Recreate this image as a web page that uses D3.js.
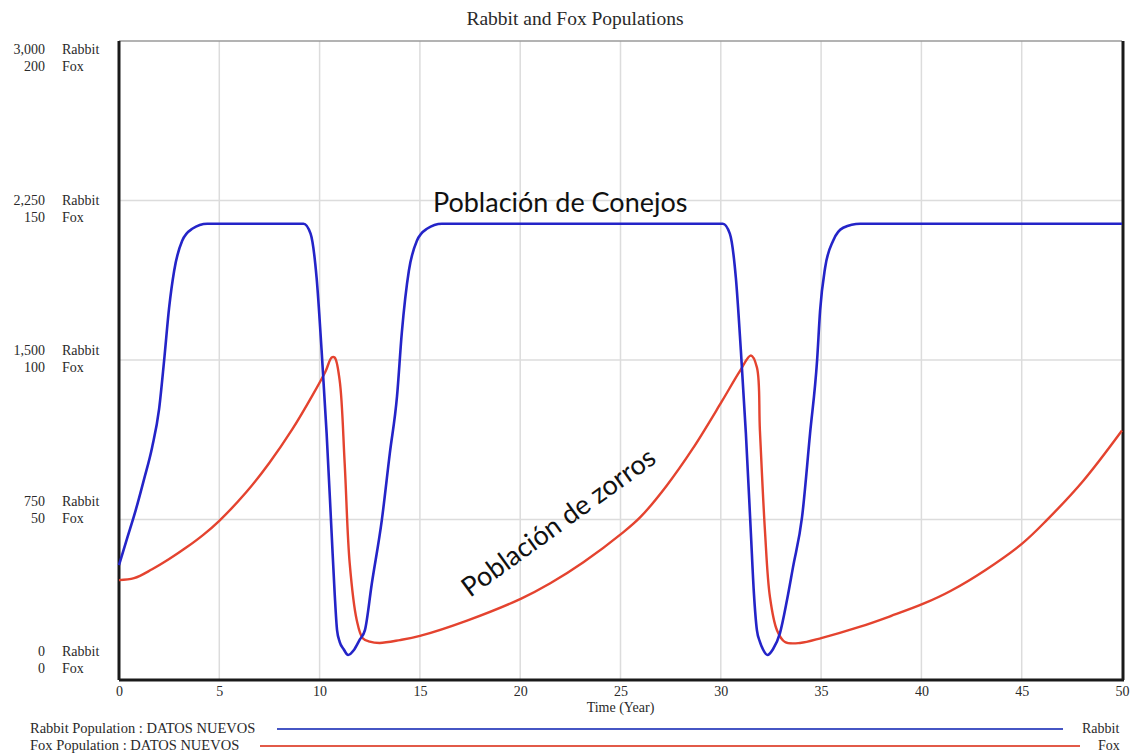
<!DOCTYPE html>
<html>
<head>
<meta charset="utf-8">
<script src="https://cdn.jsdelivr.net/npm/d3@7"></script>
<style>
  html, body { margin: 0; padding: 0; background: #fff; }
  svg { display: block; }
  .serif { font-family: "Liberation Serif", "DejaVu Serif", serif; fill: #2a2a2a; }
</style>
</head>
<body>
<svg id="chart" width="1140" height="753"></svg>
<script>
// ---------- data ----------
const title = "Rabbit and Fox Populations";
const xTicks = [0, 5, 10, 15, 20, 25, 30, 35, 40, 45, 50];
const rabbitTicks = [0, 750, 1500, 2250, 3000];
const foxTicks = [0, 50, 100, 150, 200];

const rabbitTime = [0, 0.4, 0.83, 1.25, 1.65, 2.0, 2.25, 2.5, 2.75, 3.15, 3.65, 4.4, 5, 9.2, 9.55, 9.85, 10.1, 10.35, 10.6, 10.75, 10.87, 11.0, 11.2, 11.42, 11.7, 12.0, 12.26, 12.6, 13.1, 13.5, 13.86, 14.1, 14.45, 14.85, 15.35, 16.1, 30.1, 30.45, 30.75, 31.0, 31.25, 31.5, 31.65, 31.8, 31.95, 32.1, 32.33, 32.6, 32.95, 33.3, 33.6, 34.05, 34.45, 34.8, 34.95, 35.2, 35.6, 36.1, 36.95, 50];
const rabbitValues = [535, 660, 793, 940, 1089, 1270, 1498, 1747, 1920, 2061, 2117, 2141, 2141, 2141, 2094, 1887, 1545, 1155, 685, 404, 230, 175, 140, 113, 135, 185, 230, 447, 746, 1061, 1330, 1630, 1920, 2061, 2117, 2141, 2141, 2094, 1887, 1545, 1155, 685, 404, 230, 175, 140, 113, 140, 216, 371, 526, 761, 1155, 1498, 1732, 1934, 2061, 2122, 2141, 2141];

const foxTime = [0, 0.75, 1.65, 2.5, 3.35, 4.2, 5.0, 6.35, 7.5, 8.65, 9.65, 10.3, 10.6, 10.75, 11.0, 11.25, 11.5, 11.85, 12.15, 12.5, 13.0, 14.0, 15.0, 17.35, 20.05, 21.5, 23.15, 25.1, 26.0, 27.3, 28.6, 30.05, 30.95, 31.5, 31.8, 31.95, 32.2, 32.45, 32.8, 33.2, 33.95, 35.05, 36.95, 38.5, 40.1, 41.45, 43.2, 45.05, 46.25, 48.05, 50];
const foxValues = [31.0, 31.6, 34.4, 37.6, 41.2, 45.2, 49.6, 58.6, 67.8, 78.4, 89.0, 96.5, 100.8, 100.8, 93.6, 67.6, 36.3, 18.5, 12.8, 11.7, 11.3, 12.2, 13.5, 18.3, 25.2, 30.0, 36.6, 45.8, 50.8, 60.6, 72.2, 87.0, 96.5, 101.4, 97.7, 77.9, 46.6, 25.7, 15.3, 11.6, 11.3, 12.9, 16.4, 19.8, 23.6, 27.6, 34.2, 42.6, 49.8, 62.0, 77.9];

const legendItems = [
  { label: "Rabbit Population : DATOS NUEVOS", short: "Rabbit", color: "#4656c4" },
  { label: "Fox Population : DATOS NUEVOS", short: "Fox", color: "#e25a48" }
];

// ---------- layout ----------
const svg = d3.select("#chart");
const L = 119, R = 1122, T = 41, B = 679;
const x = d3.scaleLinear().domain([0, 50]).range([L, R]);
const yR = d3.scaleLinear().domain([0, 3000]).range([B, T]);
const yF = d3.scaleLinear().domain([0, 200]).range([B, T]);
// label rows on the left are spaced slightly tighter than the grid
const yLab = d3.scaleLinear().domain([0, 3000]).range([660, 58]);

// title
svg.append("text").attr("class", "serif")
  .attr("x", 575).attr("y", 25).attr("text-anchor", "middle")
  .style("font-size", "19.5px").text(title);

// grid
const grid = svg.append("g");
grid.selectAll("line.v").data(xTicks.slice(1, -1)).join("line")
  .attr("x1", d => x(d)).attr("x2", d => x(d)).attr("y1", T).attr("y2", B)
  .attr("stroke", "#dcdcdc").attr("stroke-width", 1.5);
grid.selectAll("line.h").data(rabbitTicks.slice(1, -1)).join("line")
  .attr("x1", L).attr("x2", R).attr("y1", d => yR(d)).attr("y2", d => yR(d))
  .attr("stroke", "#dcdcdc").attr("stroke-width", 1.5);

// frame
svg.append("line").attr("x1", L).attr("x2", R).attr("y1", T).attr("y2", T)
  .attr("stroke", "#9a9a9a").attr("stroke-width", 1.5);
svg.append("line").attr("x1", L).attr("x2", L).attr("y1", T).attr("y2", B + 1)
  .attr("stroke", "#1a1a1a").attr("stroke-width", 3);
svg.append("line").attr("x1", R + 1).attr("x2", R + 1).attr("y1", T).attr("y2", B + 1)
  .attr("stroke", "#1a1a1a").attr("stroke-width", 3);
svg.append("line").attr("x1", L).attr("x2", R + 2).attr("y1", B + 1).attr("y2", B + 1)
  .attr("stroke", "#1a1a1a").attr("stroke-width", 3);

// x axis labels
const xAxis = d3.axisBottom(x).tickValues(xTicks).tickSize(0).tickPadding(5);
const gx = svg.append("g").attr("transform", `translate(0,${B + 2})`).call(xAxis);
gx.select(".domain").remove();
gx.selectAll("text").attr("class", "serif").style("font-size", "14px")
  .attr("font-family", null);
svg.append("text").attr("class", "serif").attr("x", x(25)).attr("y", 712)
  .attr("text-anchor", "middle").style("font-size", "14px").text("Time (Year)");

// left labels
const fmt = d3.format(",");
const lab = svg.append("g");
rabbitTicks.forEach((v, i) => {
  const yy = yLab(v);
  lab.append("text").attr("class", "serif").attr("x", 45).attr("y", yy - 4)
    .attr("text-anchor", "end").style("font-size", "14px").text(fmt(v));
  lab.append("text").attr("class", "serif").attr("x", 62).attr("y", yy - 4)
    .style("font-size", "14px").text("Rabbit");
  lab.append("text").attr("class", "serif").attr("x", 45).attr("y", yy + 13)
    .attr("text-anchor", "end").style("font-size", "14px").text(fmt(foxTicks[i]));
  lab.append("text").attr("class", "serif").attr("x", 62).attr("y", yy + 13)
    .style("font-size", "14px").text("Fox");
});

// lines
const rabbitData = rabbitTime.map((t, i) => [t, rabbitValues[i]]);
const foxData = foxTime.map((t, i) => [t, foxValues[i]]);
const lineR = d3.line().x(d => x(d[0])).y(d => yR(d[1])).curve(d3.curveMonotoneX);
const lineF = d3.line().x(d => x(d[0])).y(d => yF(d[1])).curve(d3.curveCatmullRom.alpha(0.5));

svg.append("path").datum(foxData).attr("d", lineF)
  .attr("fill", "none").attr("stroke", "#e4432f").attr("stroke-width", 2.4);
svg.append("path").datum(rabbitData).attr("d", lineR)
  .attr("fill", "none").attr("stroke", "#2424c8").attr("stroke-width", 2.6);

// annotations
svg.append("text").attr("x", x(15.65)).attr("y", yR(2197))
  .style("font-family", "Lato, 'Open Sans', sans-serif").style("font-size", "27px")
  .attr("fill", "#111").text("Población de Conejos");
svg.append("text")
  .attr("transform", `translate(${x(17.5)},${yF(25.4)}) rotate(-36)`)
  .style("font-family", "Lato, 'Open Sans', sans-serif").style("font-size", "27px")
  .attr("fill", "#111").text("Población de zorros");

// legend
const legY = [733, 750];
const legLine = [[277, 1063], [260, 1080]];
const legShortX = [1082, 1098];
legendItems.forEach((it, i) => {
  svg.append("text").attr("class", "serif").attr("x", 30).attr("y", legY[i])
    .style("font-size", "14.5px").text(it.label);
  svg.append("line").attr("x1", legLine[i][0]).attr("x2", legLine[i][1])
    .attr("y1", legY[i] - 4).attr("y2", legY[i] - 4)
    .attr("stroke", it.color).attr("stroke-width", 2.2);
  svg.append("text").attr("class", "serif").attr("x", legShortX[i]).attr("y", legY[i])
    .style("font-size", "14px").text(it.short);
});
</script>
</body>
</html>
